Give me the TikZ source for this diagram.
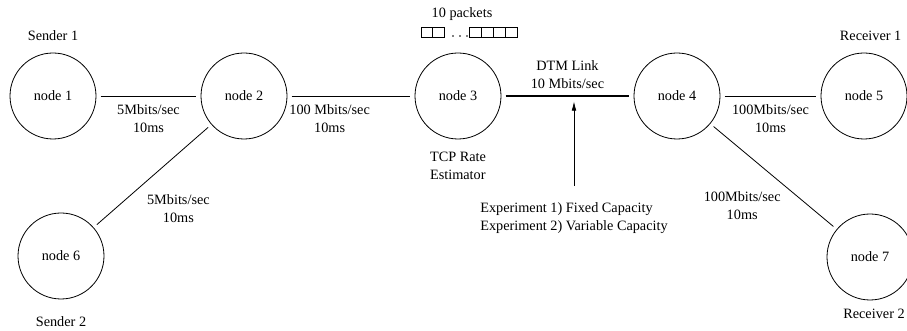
\documentclass[tikz,border=0pt]{standalone}
\usepackage{fontspec}
\setmainfont{Liberation Serif}
\usetikzlibrary{arrows.meta}
\tikzset{
  host/.style={draw, circle, line width=0.6pt, minimum size=64.5pt, inner sep=0pt, outer sep=3.5pt},
  link/.style={line width=0.6pt},
  rate/.style={align=center}
}
\begin{document}
\begin{tikzpicture}[x=0.75pt, y=-0.75pt, font=\fontsize{10.7}{13.5}\selectfont]
\useasboundingbox (0,0) rectangle (907,331);
\node[host, label={[label distance=2.5pt]above:Sender 1}] (n1) at (53,96) {node 1};
\node[host] (n2) at (244,96) {node 2};
\node[host, label={[label distance=2.5pt, align=left]below:TCP Rate\\Estimator}] (n3) at (458,96) {node 3};
\node[host] (n4) at (677,96) {node 4};
\node[host, label={[label distance=2.5pt, xshift=5pt]above:Receiver 1}] (n5) at (864,96) {node 5};
\node[host, label={[label distance=6.5pt]below:Sender 2}] (n6) at (61,256) {node 6};
\node[host, label={[label distance=0pt, xshift=3pt]below:Receiver 2}] (n7) at (870,257) {node 7};

\draw[link] (n1) -- node[rate, below=3pt] {5Mbits/sec\\10ms} (n2);
\draw[link] (n2) -- node[rate, pos=0.32, below=3pt] {100 Mbits/sec\\10ms} (n3);
\draw[line width=2pt] (n3) -- node[rate, above=1pt] {DTM Link\\10 Mbits/sec} coordinate[midway] (dtm) (n4);
\draw[link] (n4) -- node[rate, below=3pt] {100Mbits/sec\\10ms} (n5);
\draw[link] (n2) -- node[rate, pos=0.64, anchor=north west, xshift=4pt] {5Mbits/sec\\10ms} (n6);
\draw[link] (n4) -- node[rate, pos=0.6, anchor=north east] {100Mbits/sec\\10ms} (n7);

\node[align=left, anchor=north west] (exp) at (475.6,198) {Experiment 1) Fixed Capacity\\Experiment 2) Variable Capacity};
\draw[link, -{Latex[length=7pt, width=3.5pt]}, shorten <=9pt, shorten >=4pt] (exp.north) -- (exp.north |- dtm);

\node (pk) at (462,14) {10 packets};
\foreach \i in {0,1} \draw[link] (421+11.5*\i,27) rectangle ++(11.5,10);
\foreach \i in {0,...,3} \draw[link] (469+12*\i,27) rectangle ++(12,10);
\foreach \x in {453,460,467} \fill (\x,36) circle (0.6pt);
\end{tikzpicture}
\end{document}
